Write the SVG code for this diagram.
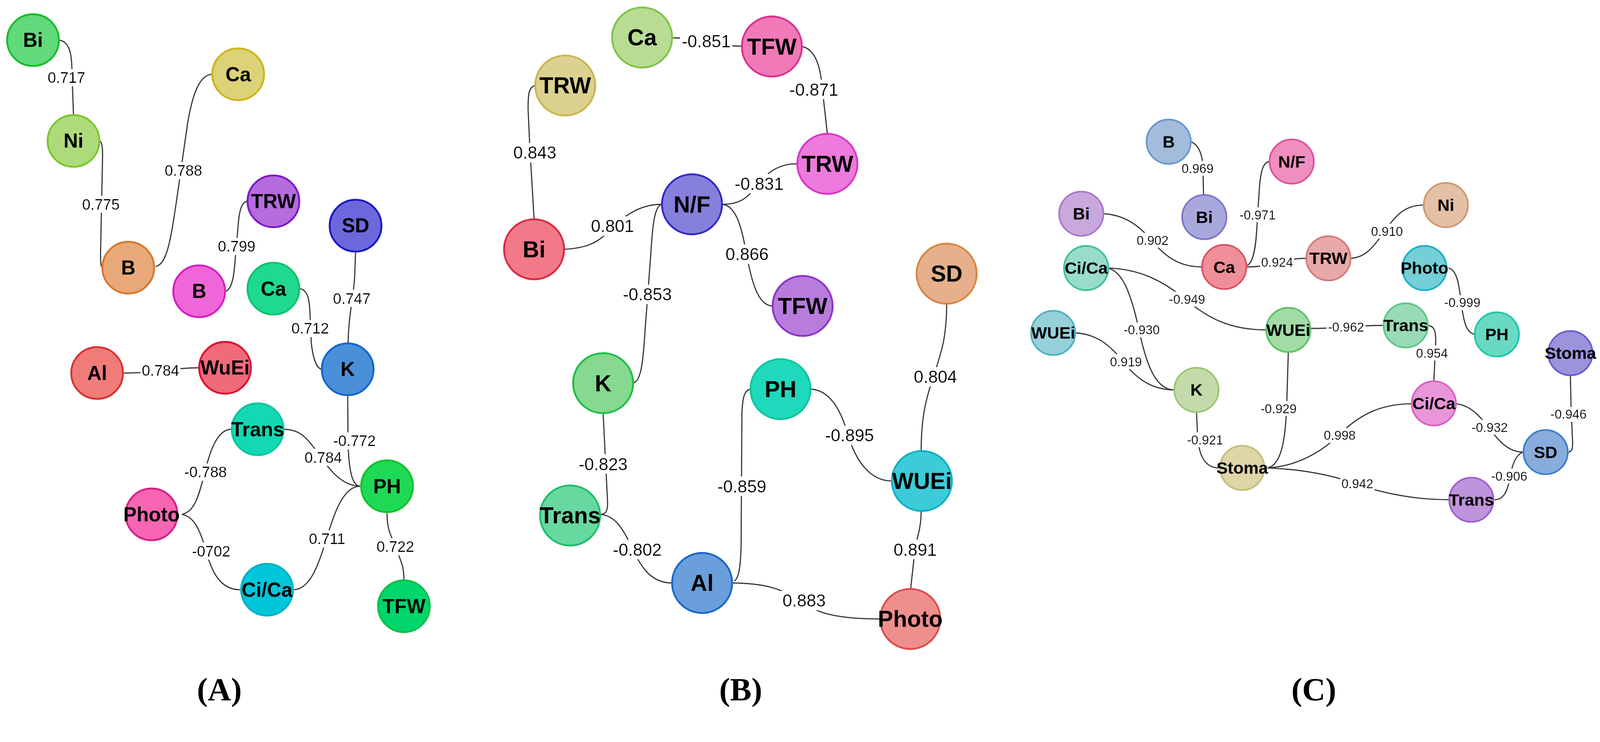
<svg xmlns="http://www.w3.org/2000/svg" width="4266" height="1900" viewBox="0 0 4266 1900" style="max-width:100vw;height:auto;display:block">
<defs>
<filter id="lbg" x="-0.03" y="0" width="1.06" height="1"><feFlood flood-color="#ffffff"/><feComposite in="SourceGraphic" operator="over"/></filter>
</defs>
<style>
.node text{font-family:"Liberation Sans",Arial,sans-serif;font-weight:bold;text-anchor:middle;dominant-baseline:central;fill:#000}
.pa circle{stroke-width:5}
.pb circle{stroke-width:5}
.pc circle{stroke-width:4.5}
.pa text{font-size:53px}
.pb text{font-size:61px}
.pc text{font-size:45px}
.edges path{fill:none;stroke:#333;stroke-width:3}
.lbl{font-family:"Liberation Sans",Arial,sans-serif;text-anchor:middle;dominant-baseline:central;fill:#000;filter:url(#lbg)}
.la{font-size:40px}
.lb{font-size:46px}
.lc{font-size:34px}
.panel{font-family:"Liberation Serif","Times New Roman",serif;font-weight:bold;font-size:86px;text-anchor:middle;fill:#000}
</style>
<rect width="4266" height="1900" fill="#ffffff"/>

<g id="connectors" class="edges">
<!-- Panel A -->
<path d="M157,107 C188,110 192,150 192,200 L196,307"/>
<path d="M265,376 C274,378 274,400 273,440 L268,680 C268,705 270,712 273,714"/>
<path d="M415,711 C445,705 455,640 470,540 L500,330 C515,240 535,200 565,198"/>
<path d="M602,777 C622,770 625,720 628,680 L636,590 C640,550 648,538 660,537"/>
<path d="M800,770 C822,775 826,800 827,850 L830,915 C835,960 845,982 857,985"/>
<path d="M948,673 L946,730 C944,790 930,830 928,915"/>
<path d="M927,1057 L928,1180 C930,1260 940,1295 960,1297"/>
<path d="M757,1145 C800,1145 820,1170 845,1205 C880,1255 910,1295 960,1297"/>
<path d="M485,1372 C520,1365 530,1320 545,1265 C560,1200 580,1145 617,1145"/>
<path d="M485,1372 C520,1378 535,1420 550,1470 C565,1530 590,1573 640,1573"/>
<path d="M784,1573 C830,1570 850,1500 870,1440 C890,1370 915,1297 960,1297"/>
<path d="M1032,1369 C1032,1420 1045,1430 1055,1460 C1070,1500 1077,1510 1077,1548"/>
<path d="M331,995 C420,995 440,982 531,981"/>
<!-- Panel B -->
<path d="M1794,101 C1880,101 1890,123 1978,123"/>
<path d="M2138,124 C2170,130 2185,170 2190,215 L2206,357"/>
<path d="M1427,228 C1410,232 1408,250 1408,290 L1412,380 L1424,585"/>
<path d="M1503,665 C1560,662 1590,650 1620,620 C1660,580 1700,545 1764,545"/>
<path d="M1926,545 C1970,545 1990,530 2010,505 C2040,465 2070,437 2124,437"/>
<path d="M1926,545 C1960,548 1975,600 1985,650 C2000,730 2015,816 2060,816"/>
<path d="M1764,545 C1745,550 1740,600 1735,680 L1720,880 C1715,960 1710,1018 1688,1022"/>
<path d="M1608,1102 L1614,1220 L1620,1340 C1620,1365 1615,1372 1600,1372"/>
<path d="M1600,1372 C1640,1375 1660,1410 1680,1450 C1710,1520 1740,1555 1792,1555"/>
<path d="M1958,1550 C1972,1540 1975,1500 1976,1450 L1978,1120 C1978,1060 1985,1040 2001,1038"/>
<path d="M1952,1555 C2040,1556 2080,1570 2120,1595 C2170,1630 2210,1651 2347,1651"/>
<path d="M2161,1038 C2210,1040 2240,1090 2258,1150 C2280,1230 2320,1283 2378,1283"/>
<path d="M2456,1203 C2456,1110 2470,1060 2490,1000 C2510,940 2524,900 2524,810"/>
<path d="M2456,1363 C2456,1420 2440,1440 2438,1480 L2428,1571"/>
<!-- Panel C -->
<path d="M3175,378 C3195,385 3205,410 3207,440 L3209,520"/>
<path d="M2940,570 C3000,572 3040,605 3070,640 C3110,690 3150,712 3205,712"/>
<path d="M3325,708 C3345,700 3350,640 3352,590 L3358,500 C3362,450 3370,431 3386,431"/>
<path d="M3323,712 C3400,712 3410,689 3484,689"/>
<path d="M3600,689 C3640,688 3660,660 3690,620 C3720,575 3745,547 3796,547"/>
<path d="M2955,715 C3040,718 3100,750 3150,790 C3220,850 3280,880 3376,880"/>
<path d="M2955,715 C2990,725 3010,770 3030,850 C3050,940 3070,1040 3131,1040"/>
<path d="M2867,888 C2920,890 2960,920 2990,960 C3030,1010 3070,1040 3131,1040"/>
<path d="M3190,1099 L3193,1160 C3196,1220 3215,1248 3250,1248"/>
<path d="M3435,939 L3431,1070 C3428,1180 3415,1240 3380,1248"/>
<path d="M3495,876 C3590,876 3600,868 3688,868"/>
<path d="M3808,868 C3825,870 3828,885 3828,910 L3823,1019"/>
<path d="M3862,715 C3885,720 3890,760 3895,800 C3902,860 3910,890 3934,892"/>
<path d="M3380,1248 C3450,1245 3520,1210 3570,1160 C3630,1100 3690,1077 3765,1077"/>
<path d="M3380,1248 C3480,1252 3560,1270 3620,1292 C3700,1320 3780,1333 3866,1333"/>
<path d="M3880,1077 C3920,1080 3945,1110 3965,1135 C3995,1175 4020,1206 4062,1206"/>
<path d="M4060,1206 C4040,1215 4032,1240 4028,1265 C4020,1310 4010,1333 3985,1333"/>
<path d="M4187,1001 L4189,1090 L4193,1180 C4193,1200 4190,1206 4180,1206"/>

<!-- Edge labels A -->
<text class="lbl la" x="177" y="207">0.717</text>
<text class="lbl la" x="269" y="545">0.775</text>
<text class="lbl la" x="489" y="455">0.788</text>
<text class="lbl la" x="631" y="657">0.799</text>
<text class="lbl la" x="938" y="796">0.747</text>
<text class="lbl la" x="827" y="876">0.712</text>
<text class="lbl la" x="428" y="988">0.784</text>
<text class="lbl la" x="945" y="1176">-0.772</text>
<text class="lbl la" x="862" y="1220">0.784</text>
<text class="lbl la" x="548" y="1259">-0.788</text>
<text class="lbl la" x="563" y="1470">-0702</text>
<text class="lbl la" x="872" y="1437">0.711</text>
<text class="lbl la" x="1054" y="1458">0.722</text>
<!-- Edge labels B -->
<text class="lbl lb" x="1883" y="110">-0.851</text>
<text class="lbl lb" x="2170" y="239">-0.871</text>
<text class="lbl lb" x="1426" y="407">0.843</text>
<text class="lbl lb" x="2024" y="490">-0.831</text>
<text class="lbl lb" x="1633" y="603">0.801</text>
<text class="lbl lb" x="1992" y="678">0.866</text>
<text class="lbl lb" x="1726" y="785">-0.853</text>
<text class="lbl lb" x="2494" y="1005">0.804</text>
<text class="lbl lb" x="2265" y="1161">-0.895</text>
<text class="lbl lb" x="1608" y="1238">-0.823</text>
<text class="lbl lb" x="1978" y="1297">-0.859</text>
<text class="lbl lb" x="1699" y="1466">-0.802</text>
<text class="lbl lb" x="2440" y="1466">0.891</text>
<text class="lbl lb" x="2144" y="1602">0.883</text>
<!-- Edge labels C -->
<text class="lbl lc" x="3193" y="449">0.969</text>
<text class="lbl lc" x="3353" y="573">-0.971</text>
<text class="lbl lc" x="3073" y="641">0.902</text>
<text class="lbl lc" x="3405" y="699">0.924</text>
<text class="lbl lc" x="3698" y="617">0.910</text>
<text class="lbl lc" x="3165" y="798">-0.949</text>
<text class="lbl lc" x="3044" y="880">-0.930</text>
<text class="lbl lc" x="3589" y="872">-0.962</text>
<text class="lbl lc" x="3002" y="965">0.919</text>
<text class="lbl lc" x="3899" y="807">-0.999</text>
<text class="lbl lc" x="3818" y="942">0.954</text>
<text class="lbl lc" x="3409" y="1090">-0.929</text>
<text class="lbl lc" x="3213" y="1173">-0.921</text>
<text class="lbl lc" x="3572" y="1161">0.998</text>
<text class="lbl lc" x="4182" y="1105">-0.946</text>
<text class="lbl lc" x="3972" y="1140">-0.932</text>
<text class="lbl lc" x="4024" y="1270">-0.906</text>
<text class="lbl lc" x="3619" y="1290">0.942</text>
</g>

<!-- Panel A nodes -->
<g id="a-bi" class="node pa"><circle cx="88" cy="107" r="69" fill="#62d97a" stroke="#17bd2a"/><text x="88" y="107">Bi</text></g>
<g id="a-ni" class="node pa"><circle cx="196" cy="376" r="69" fill="#aedb7a" stroke="#79c72c"/><text x="196" y="376">Ni</text></g>
<g id="a-ca1" class="node pa"><circle cx="635" cy="198" r="69" fill="#dcd277" stroke="#cdb517"/><text x="635" y="198">Ca</text></g>
<g id="a-b1" class="node pa"><circle cx="342" cy="714" r="69" fill="#e8a87a" stroke="#d9782e"/><text x="342" y="714">B</text></g>
<g id="a-trw" class="node pa"><circle cx="729" cy="537" r="69" fill="#b46cdc" stroke="#7a19c9"/><text x="729" y="537">TRW</text></g>
<g id="a-b2" class="node pa"><circle cx="531" cy="777" r="69" fill="#ef66d9" stroke="#d71ec2"/><text x="531" y="777">B</text></g>
<g id="a-ca2" class="node pa"><circle cx="729" cy="770" r="69" fill="#1ed98f" stroke="#12c26c"/><text x="729" y="770">Ca</text></g>
<g id="a-sd" class="node pa"><circle cx="948" cy="602" r="69" fill="#6c68dc" stroke="#1818c2"/><text x="948" y="602">SD</text></g>
<g id="a-k" class="node pa"><circle cx="927" cy="985" r="69" fill="#4a90d9" stroke="#1565cc"/><text x="927" y="985">K</text></g>
<g id="a-al" class="node pa"><circle cx="259" cy="995" r="69" fill="#f07c7a" stroke="#dc3030"/><text x="259" y="995">Al</text></g>
<g id="a-wuei" class="node pa"><circle cx="600" cy="981" r="69" fill="#f06a7a" stroke="#dc1230"/><text x="600" y="981">WuEi</text></g>
<g id="a-trans" class="node pa"><circle cx="687" cy="1145" r="69" fill="#12d9b4" stroke="#10c49b"/><text x="687" y="1145">Trans</text></g>
<g id="a-photo" class="node pa"><circle cx="404" cy="1372" r="69" fill="#f866b3" stroke="#d91e88"/><text x="404" y="1372">Photo</text></g>
<g id="a-ph" class="node pa"><circle cx="1032" cy="1297" r="69" fill="#1fd955" stroke="#12c22a"/><text x="1032" y="1297">PH</text></g>
<g id="a-cica" class="node pa"><circle cx="712" cy="1573" r="69" fill="#00c6d9" stroke="#00b0c6"/><text x="712" y="1573">Ci/Ca</text></g>
<g id="a-tfw" class="node pa"><circle cx="1077" cy="1617" r="69" fill="#00d66c" stroke="#10c04a"/><text x="1077" y="1617">TFW</text></g>

<!-- Panel B nodes -->
<g id="b-ca" class="node pb"><circle cx="1712" cy="100" r="80" fill="#b9dc94" stroke="#7dc445"/><text x="1712" y="100">Ca</text></g>
<g id="b-tfw1" class="node pb"><circle cx="2058" cy="124" r="80" fill="#f07ab8" stroke="#dc3090"/><text x="2058" y="124">TFW</text></g>
<g id="b-trw1" class="node pb"><circle cx="1507" cy="228" r="80" fill="#dcd190" stroke="#c8b650"/><text x="1507" y="228">TRW</text></g>
<g id="b-trw2" class="node pb"><circle cx="2206" cy="437" r="80" fill="#ed7adc" stroke="#d936c8"/><text x="2206" y="437">TRW</text></g>
<g id="b-nf" class="node pb"><circle cx="1845" cy="545" r="80" fill="#8680dc" stroke="#3228c8"/><text x="1845" y="545">N/F</text></g>
<g id="b-bi" class="node pb"><circle cx="1424" cy="665" r="80" fill="#f27a88" stroke="#dc2840"/><text x="1424" y="665">Bi</text></g>
<g id="b-tfw2" class="node pb"><circle cx="2140" cy="816" r="80" fill="#b87cdc" stroke="#8a34c8"/><text x="2140" y="816">TFW</text></g>
<g id="b-sd" class="node pb"><circle cx="2524" cy="730" r="80" fill="#e6b08c" stroke="#d98640"/><text x="2524" y="730">SD</text></g>
<g id="b-k" class="node pb"><circle cx="1608" cy="1022" r="80" fill="#86d98e" stroke="#1dbf45"/><text x="1608" y="1022">K</text></g>
<g id="b-ph" class="node pb"><circle cx="2081" cy="1038" r="80" fill="#1ed9bb" stroke="#12c49b"/><text x="2081" y="1038">PH</text></g>
<g id="b-wuei" class="node pb"><circle cx="2458" cy="1283" r="80" fill="#3ccbd9" stroke="#10b0c4"/><text x="2458" y="1283">WUEi</text></g>
<g id="b-trans" class="node pb"><circle cx="1520" cy="1375" r="80" fill="#66d9a1" stroke="#1fbf6a"/><text x="1520" y="1375">Trans</text></g>
<g id="b-al" class="node pb"><circle cx="1872" cy="1555" r="80" fill="#6a9fdc" stroke="#1a66c8"/><text x="1872" y="1555">Al</text></g>
<g id="b-photo" class="node pb"><circle cx="2427" cy="1651" r="80" fill="#ef8f8c" stroke="#dc4c4c"/><text x="2427" y="1651">Photo</text></g>

<!-- Panel C nodes -->
<g id="c-b" class="node pc"><circle cx="3116" cy="378" r="59" fill="#a3bcdc" stroke="#6a97c9"/><text x="3116" y="378">B</text></g>
<g id="c-nf" class="node pc"><circle cx="3444" cy="431" r="59" fill="#ef8fbf" stroke="#e0509a"/><text x="3444" y="431">N/F</text></g>
<g id="c-bi1" class="node pc"><circle cx="2883" cy="570" r="59" fill="#c9a8dc" stroke="#a679c9"/><text x="2883" y="570">Bi</text></g>
<g id="c-bi2" class="node pc"><circle cx="3211" cy="579" r="59" fill="#a9a8dc" stroke="#7b76c9"/><text x="3211" y="579">Bi</text></g>
<g id="c-ca" class="node pc"><circle cx="3264" cy="712" r="59" fill="#ef8f99" stroke="#dc5060"/><text x="3264" y="712">Ca</text></g>
<g id="c-cica1" class="node pc"><circle cx="2896" cy="715" r="59" fill="#99dccb" stroke="#3dbf9c"/><text x="2896" y="715">Ci/Ca</text></g>
<g id="c-wuei1" class="node pc"><circle cx="2808" cy="888" r="59" fill="#96d0d8" stroke="#4ab3c2"/><text x="2808" y="888">WUEi</text></g>
<g id="c-wuei2" class="node pc"><circle cx="3435" cy="880" r="59" fill="#a2dba6" stroke="#5dc265"/><text x="3435" y="880">WUEi</text></g>
<g id="c-trw" class="node pc"><circle cx="3542" cy="689" r="59" fill="#e8a9a9" stroke="#d47a7a"/><text x="3542" y="689">TRW</text></g>
<g id="c-ni" class="node pc"><circle cx="3855" cy="547" r="59" fill="#e3c0a6" stroke="#d09870"/><text x="3855" y="547">Ni</text></g>
<g id="c-photo" class="node pc"><circle cx="3798" cy="715" r="59" fill="#74cfd8" stroke="#1ab0c3"/><text x="3798" y="715">Photo</text></g>
<g id="c-trans1" class="node pc"><circle cx="3748" cy="868" r="59" fill="#99dbb5" stroke="#5dc488"/><text x="3748" y="868">Trans</text></g>
<g id="c-ph" class="node pc"><circle cx="3991" cy="892" r="59" fill="#6ad9c4" stroke="#1ec7a4"/><text x="3991" y="892">PH</text></g>
<g id="c-stoma1" class="node pc"><circle cx="4187" cy="942" r="59" fill="#9a94dd" stroke="#6a5fcc"/><text x="4187" y="942">Stoma</text></g>
<g id="c-cica2" class="node pc"><circle cx="3823" cy="1076" r="59" fill="#e896d8" stroke="#d75fc5"/><text x="3823" y="1076">Ci/Ca</text></g>
<g id="c-sd" class="node pc"><circle cx="4121" cy="1206" r="59" fill="#88acdc" stroke="#3b7fcc"/><text x="4121" y="1206">SD</text></g>
<g id="c-trans2" class="node pc"><circle cx="3923" cy="1333" r="59" fill="#bf94dc" stroke="#9c5fcc"/><text x="3923" y="1333">Trans</text></g>
<g id="c-k" class="node pc"><circle cx="3190" cy="1040" r="59" fill="#c3dbaa" stroke="#9bc672"/><text x="3190" y="1040">K</text></g>
<g id="c-stoma2" class="node pc"><circle cx="3312" cy="1248" r="59" fill="#dcd6a8" stroke="#c8bd75"/><text x="3312" y="1248">Stoma</text></g>

<!-- Panel labels -->
<text class="panel" x="585" y="1868">(A)</text>
<text class="panel" x="1975" y="1868">(B)</text>
<text class="panel" x="3503" y="1868">(C)</text>
</svg>
